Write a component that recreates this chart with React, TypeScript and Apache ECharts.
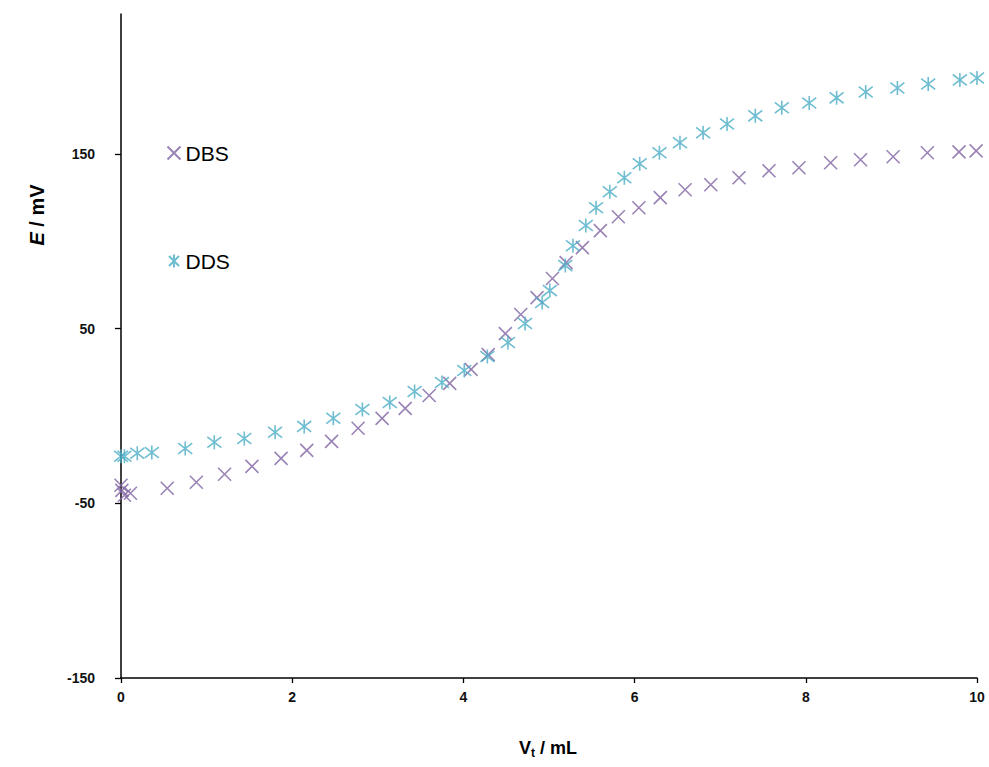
import React, { useEffect, useRef } from "react";
import * as echarts from "echarts";

// DBS titration data (Vt in mL, E in mV)
const dbsX = [0.0, 0.01, 0.04, 0.11, 0.54, 0.88, 1.21, 1.53, 1.87, 2.17, 2.46, 2.77, 3.05, 3.32, 3.6, 3.84, 4.09, 4.29, 4.49, 4.67, 4.86, 5.04, 5.2, 5.39, 5.6, 5.81, 6.05, 6.3, 6.59, 6.89, 7.22, 7.57, 7.92, 8.29, 8.64, 9.02, 9.42, 9.79, 9.99];
const dbsY = [-39.7, -42.6, -45.4, -44.3, -41.4, -38.0, -33.4, -28.9, -24.3, -19.7, -14.6, -7.1, -1.4, 4.3, 11.7, 18.6, 26.6, 35.1, 47.1, 58.0, 67.7, 78.6, 87.7, 96.3, 106.0, 114.0, 119.1, 124.9, 129.4, 132.3, 136.3, 140.3, 142.0, 144.9, 146.6, 148.3, 150.6, 151.1, 151.7];

// DDS titration data
const ddsX = [0.0, 0.04, 0.19, 0.36, 0.75, 1.09, 1.44, 1.8, 2.14, 2.48, 2.82, 3.14, 3.43, 3.75, 4.01, 4.28, 4.52, 4.72, 4.92, 5.01, 5.19, 5.28, 5.43, 5.55, 5.71, 5.88, 6.06, 6.29, 6.53, 6.8, 7.08, 7.41, 7.72, 8.04, 8.36, 8.7, 9.07, 9.43, 9.8, 10.0];
const ddsY = [-23.1, -23.1, -21.4, -20.9, -18.6, -15.1, -12.9, -9.4, -6.0, -1.4, 3.7, 7.7, 14.0, 19.1, 26.0, 34.0, 42.0, 52.9, 64.9, 71.7, 86.0, 97.4, 108.9, 119.1, 128.3, 136.3, 144.3, 150.6, 156.3, 162.0, 167.1, 171.7, 176.3, 179.1, 182.0, 185.4, 187.7, 190.0, 192.3, 193.4];

const seriesNames = ["DBS", "DDS"];
const xTicks = [0, 2, 4, 6, 8, 10];
const yTicks = [-150, -50, 50, 150];

const FONT = "Liberation Sans, Arial, sans-serif";
const PURPLE = "#8064A2";
const CYAN = "#4BACC6";

export default function App() {
  const ref = useRef<HTMLDivElement>(null);
  useEffect(() => {
    if (!ref.current) return;
    const chart = echarts.init(ref.current, undefined, { renderer: "svg" });
    const crossSym = "path://M0,0L10,10M10,0L0,10";
    const starSym = "path://M0,0L10,10M10,0L0,10M5,-1.5L5,11.5";
    chart.setOption({
      animation: false,
      backgroundColor: "#ffffff",
      grid: { left: 121, right: 12, top: 14, bottom: 89, containLabel: false },
      legend: {
        orient: "vertical",
        left: 160,
        top: 137,
        itemGap: 86,
        itemWidth: 13,
        itemHeight: 13,
        textStyle: { fontFamily: FONT, fontSize: 21, color: "#000", lineHeight: 22 },
        data: seriesNames,
      },
      xAxis: {
        type: "value",
        min: 0,
        max: 10,
        interval: 2,
        splitLine: { show: false },
        axisLine: { onZero: false, lineStyle: { color: "#000", width: 1.5 } },
        axisTick: { show: true, length: 5, inside: false, lineStyle: { color: "#000", width: 1.3 }, customValues: xTicks },
        axisLabel: { fontFamily: FONT, fontSize: 14, fontWeight: "bold", color: "#111", margin: 12, customValues: xTicks },
      },
      yAxis: {
        type: "value",
        min: -150,
        max: 230,
        interval: 100,
        splitLine: { show: false },
        axisLine: { onZero: false, lineStyle: { color: "#000", width: 1.5 } },
        axisTick: { show: true, length: 6, lineStyle: { color: "#000", width: 1.3 }, customValues: yTicks },
        axisLabel: { fontFamily: FONT, fontSize: 14, fontWeight: "bold", color: "#111", margin: 26, customValues: yTicks },
      },
      graphic: [
        {
          type: "text",
          x: 37,
          y: 215,
          rotation: Math.PI / 2,
          style: {
            text: "{i|E}{b| / mV}",
            rich: {
              i: { fontFamily: FONT, fontSize: 20, fontWeight: "bold", fontStyle: "italic", fill: "#000" },
              b: { fontFamily: FONT, fontSize: 20, fontWeight: "bold", fill: "#000" },
            },
            align: "center",
            verticalAlign: "middle",
          },
        },
        {
          type: "text",
          x: 548,
          y: 748,
          style: {
            text: "{b|V}{s|t}{b| / mL}",
            rich: {
              b: { fontFamily: FONT, fontSize: 18, fontWeight: "bold", fill: "#000" },
              s: { fontFamily: FONT, fontSize: 12, fontWeight: "bold", fill: "#000", padding: [10, 0, 0, 0] },
            },
            align: "center",
            verticalAlign: "middle",
          },
        },
      ],
      series: [
        {
          name: "DBS",
          type: "scatter",
          symbol: crossSym,
          symbolSize: 13,
          itemStyle: { color: "none", borderColor: PURPLE, borderWidth: 1.6 },
          data: dbsX.map((x, i) => [x, dbsY[i]]),
        },
        {
          name: "DDS",
          type: "scatter",
          symbol: starSym,
          symbolSize: 14,
          itemStyle: { color: "none", borderColor: CYAN, borderWidth: 1.6 },
          data: ddsX.map((x, i) => [x, ddsY[i]]),
        },
      ],
    });
    return () => chart.dispose();
  }, []);
  return <div ref={ref} style={{ position: "fixed", left: 0, top: 0, width: 989, height: 767 }} />;
}
